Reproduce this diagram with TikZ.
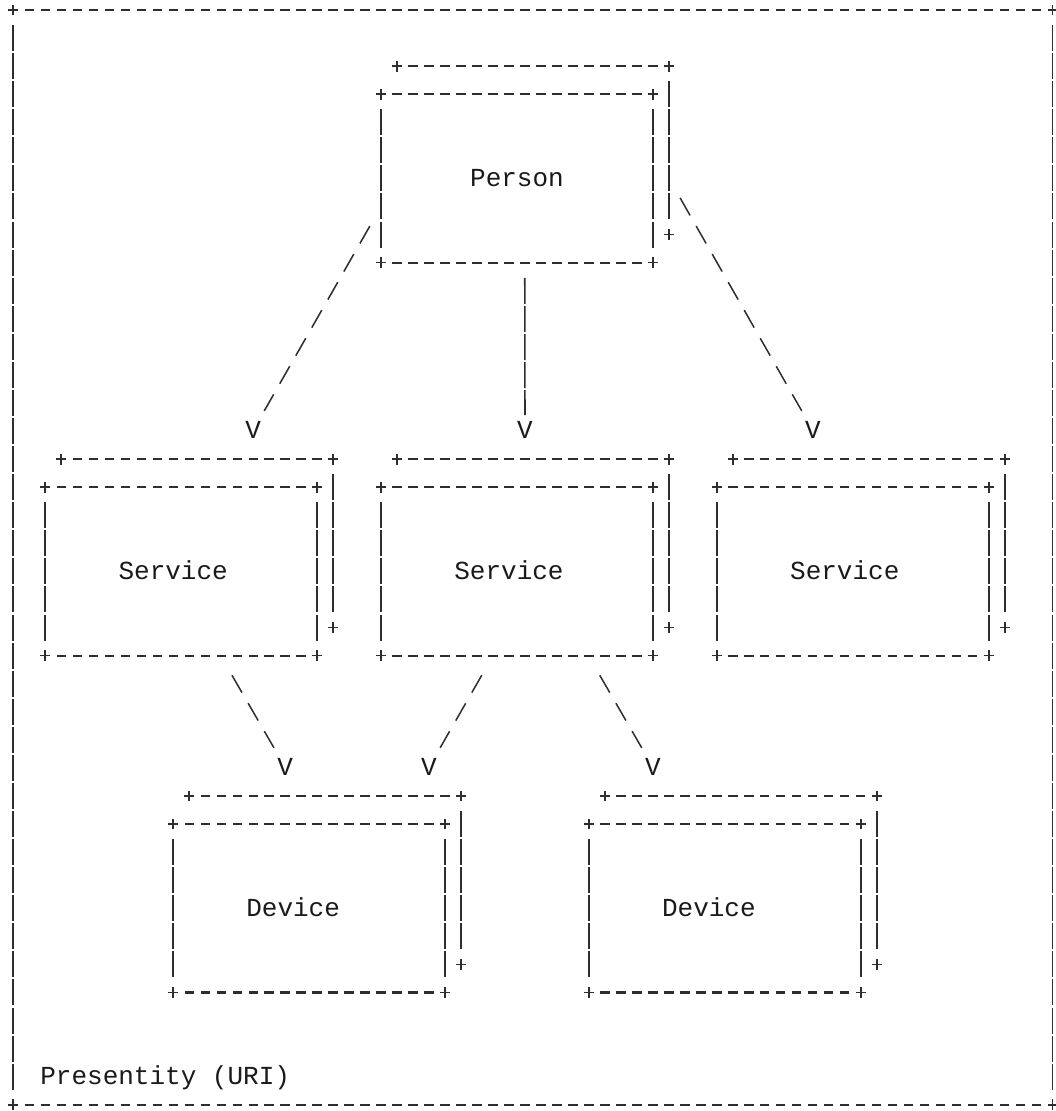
\documentclass[tikz,border=0pt]{standalone}
\usepackage{fontspec}
\newfontfamily\monofont{Liberation Mono}
\usetikzlibrary{calc}
\definecolor{inkc}{HTML}{2E2E2E}
\definecolor{textc}{HTML}{1A1A1A}
\tikzset{
  ink/.style={draw=inkc, line width=1.6pt},
  hline/.style={ink, line width=2.1pt, dash pattern=on 9.3pt off 6.69pt},
  vline/.style={ink, dash pattern=on 26pt off 2.07pt},
  slashln/.style={draw=inkc, line width=1.5pt, dash pattern=on 20pt off 12.305pt, shorten >=22.3pt},
  solidln/.style={vline, shorten >=15.07pt},
  lbl/.style={font={\monofont\fontsize{26}{30}\selectfont}, text=textc, inner sep=0pt, anchor=base, yshift=-7.8pt},
  boxnode/.style={rectangle, draw=none, inner sep=0pt, minimum width=271.83pt, minimum height=168.42pt},
}
% "+" corner mark at grid cell (col,row)
\newcommand\pmark[2]{\draw[ink,shift={(#1,#2)}] (-4.8pt,0pt) -- (4.8pt,0pt) (0pt,-5.4pt) -- (0pt,5.4pt);}
% horizontal +----+ edge from col #1 to col #2 at row #3
\newcommand\hdashes[3]{\pmark{#1}{#3}\pmark{#2}{#3}%
  \draw[hline] ($(#1,#3)+(11.34pt,0pt)$) -- ($(#2,#3)+(-11.34pt,0pt)$);}
% vertical | edge at col #1 between rows #2 and #3
\newcommand\vbars[3]{\draw[vline] ($(#1,#2)+(0pt,-15.07pt)$) -- ($(#1,#3)+(0pt,15.07pt)$);}
% box with shadow: name, left col, top row, text centre col, text
\newcommand\asciibox[5]{%
  \node[boxnode] (#1) at ({#2+8.5},{#3+3}) {};
  \node[lbl] (#1-t) at (#4,{#3+3}) {#5};
  \hdashes{#2+1}{#2+18}{#3-1}
  \vbars{#2+18}{#3-1}{#3+5}
  \pmark{#2+18}{#3+5}
  \hdashes{#2}{#2+17}{#3}
  \hdashes{#2}{#2+17}{#3+6}
  \vbars{#2}{#3}{#3+6}
  \vbars{#2+17}{#3}{#3+6}}
\begin{document}
\begin{tikzpicture}[x=15.99pt, y=-28.07pt]
\fill[white] (-0.8317,-0.3563) rectangle (65.147,39.223);
\useasboundingbox (-0.8317,-0.3563) rectangle (65.147,39.223);

% outer frame
\node[boxnode, minimum width=1039.35pt, minimum height=1094.73pt] (presentity) at (32.5,19.5) {};
\hdashes{0}{65}{0}
\hdashes{0}{65}{39}
\vbars{0}{0}{39}
\vbars{65}{0}{39}
\node[lbl] (presentity-t) at (9.5,38) {Presentity (URI)};

% boxes
\asciibox{person}{23}{3}{31.5}{Person}
\asciibox{svcl}{2}{17}{10}{Service}
\asciibox{svcm}{23}{17}{31}{Service}
\asciibox{svcr}{44}{17}{52}{Service}
\asciibox{devl}{10}{29}{17.5}{Device}
\asciibox{devr}{36}{29}{43.5}{Device}

% arrow heads
\node[lbl] (v1) at (15,15) {V};
\node[lbl] (v2) at (32,15) {V};
\node[lbl] (v3) at (50,15) {V};
\node[lbl] (v4) at (17,27) {V};
\node[lbl] (v5) at (26,27) {V};
\node[lbl] (v6) at (40,27) {V};

% connectors
\coordinate (g1) at ($(person.south west)+(-1,-1)$);
\coordinate (g2) at ($(person.south east)+(2,-2)$);
\coordinate (g3) at ($(person.south west)+(9,1)$);
\coordinate (g4) at ($(svcl.south west)+(12,1)$);
\coordinate (g5) at ($(svcm.south west)+(6,1)$);
\coordinate (g6) at ($(svcm.south west)+(14,1)$);
\draw[slashln] ($(g1)!-10pt!(v1.center)$) -- (v1.center);
\draw[slashln] ($(g2)!-10pt!(v3.center)$) -- (v3.center);
\draw[solidln] ($(g3)+(0pt,13pt)$) -- (v2.center);
\draw[slashln] ($(g4)!-10pt!(v4.center)$) -- (v4.center);
\draw[slashln] ($(g5)!-10pt!(v5.center)$) -- (v5.center);
\draw[slashln] ($(g6)!-10pt!(v6.center)$) -- (v6.center);
\end{tikzpicture}
\end{document}
